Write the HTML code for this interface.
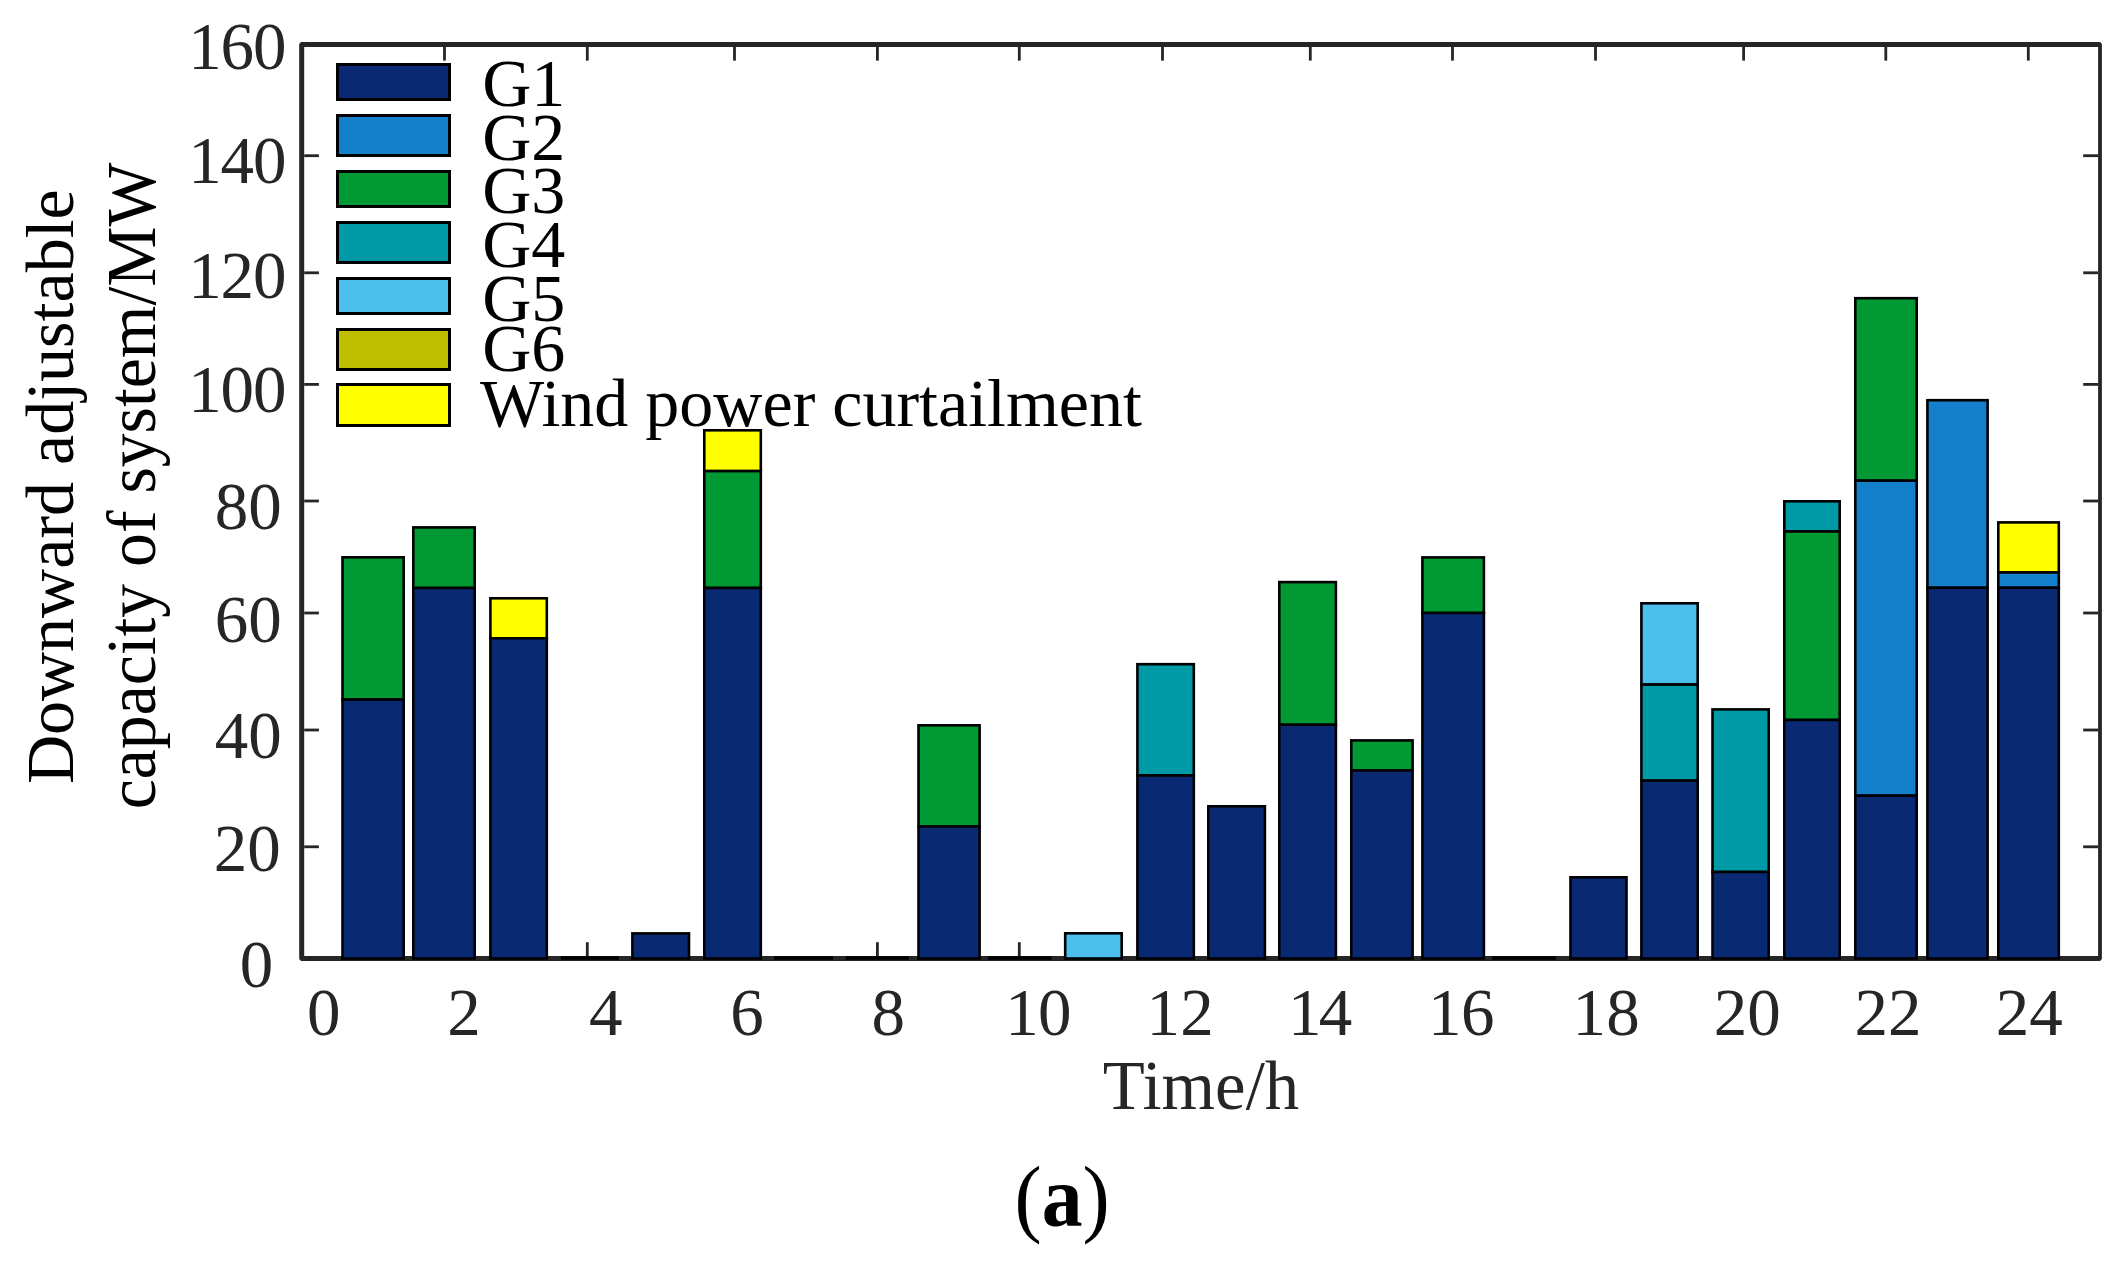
<!DOCTYPE html>
<html lang="en"><head><meta charset="utf-8"><title>Downward adjustable capacity of system</title>
<style>html,body{margin:0;padding:0;background:#fff}svg{display:block}text{font-family:"Liberation Serif",serif}</style></head><body>
<svg width="2120" height="1266" viewBox="0 0 2120 1266">
<rect width="2120" height="1266" fill="#fff"/>
<g fill="#262626">
<path fill-rule="evenodd" d="M301.0 42.1H2100.1L2101.9 43.9V959.1L2100.1 960.9H301.0L299.2 959.1V43.9Z M304.2 47.0V956.0H2098.1V47.0Z"/>
<rect x="443.1" y="47" width="2.8" height="13.6"/>
<rect x="443.1" y="942.2" width="2.8" height="13.8"/>
<rect x="585.9" y="47" width="2.8" height="13.6"/>
<rect x="585.9" y="942.2" width="2.8" height="13.8"/>
<rect x="733.1" y="47" width="2.8" height="13.6"/>
<rect x="733.1" y="942.2" width="2.8" height="13.8"/>
<rect x="876.0" y="47" width="2.8" height="13.6"/>
<rect x="876.0" y="942.2" width="2.8" height="13.8"/>
<rect x="1017.9" y="47" width="2.8" height="13.6"/>
<rect x="1017.9" y="942.2" width="2.8" height="13.8"/>
<rect x="1161.1" y="47" width="2.8" height="13.6"/>
<rect x="1161.1" y="942.2" width="2.8" height="13.8"/>
<rect x="1308.9" y="47" width="2.8" height="13.6"/>
<rect x="1308.9" y="942.2" width="2.8" height="13.8"/>
<rect x="1451.1" y="47" width="2.8" height="13.6"/>
<rect x="1451.1" y="942.2" width="2.8" height="13.8"/>
<rect x="1594.1" y="47" width="2.8" height="13.6"/>
<rect x="1594.1" y="942.2" width="2.8" height="13.8"/>
<rect x="1742.2" y="47" width="2.8" height="13.6"/>
<rect x="1742.2" y="942.2" width="2.8" height="13.8"/>
<rect x="1884.4" y="47" width="2.8" height="13.6"/>
<rect x="1884.4" y="942.2" width="2.8" height="13.8"/>
<rect x="2026.9" y="47" width="2.8" height="13.6"/>
<rect x="2026.9" y="942.2" width="2.8" height="13.8"/>
<rect x="304.2" y="154.3" width="14.7" height="2.8"/>
<rect x="2083.2" y="154.3" width="14.9" height="2.8"/>
<rect x="304.2" y="271.4" width="14.7" height="2.8"/>
<rect x="2083.2" y="271.4" width="14.9" height="2.8"/>
<rect x="304.2" y="383.0" width="14.7" height="2.8"/>
<rect x="2083.2" y="383.0" width="14.9" height="2.8"/>
<rect x="304.2" y="499.6" width="14.7" height="2.8"/>
<rect x="2083.2" y="499.6" width="14.9" height="2.8"/>
<rect x="304.2" y="611.6" width="14.7" height="2.8"/>
<rect x="2083.2" y="611.6" width="14.9" height="2.8"/>
<rect x="304.2" y="728.6" width="14.7" height="2.8"/>
<rect x="2083.2" y="728.6" width="14.9" height="2.8"/>
<rect x="304.2" y="845.4" width="14.7" height="2.8"/>
<rect x="2083.2" y="845.4" width="14.9" height="2.8"/>
</g>
<g fill="#000" font-size="68">
<text x="482.2" y="105.8">G1</text>
<text x="482.2" y="159.8">G2</text>
<text x="482.2" y="212.8">G3</text>
<text x="482.2" y="266.6">G4</text>
<text x="482.2" y="320.6">G5</text>
<text x="482.2" y="371.3">G6</text>
<text x="480.0" y="425.8">Wind power curtailment</text>
</g>
<g stroke="#000" stroke-width="2.6">
<rect x="342.5" y="557.3" width="61.2" height="142.3" fill="#009933"/>
<rect x="342.5" y="699.6" width="61.2" height="258.9" fill="#0A2973"/>
<rect x="413.3" y="527.4" width="61.4" height="60.6" fill="#009933"/>
<rect x="413.3" y="588.0" width="61.4" height="370.5" fill="#0A2973"/>
<rect x="490.4" y="598.3" width="56.4" height="40.0" fill="#FFFF00"/>
<rect x="490.4" y="638.3" width="56.4" height="320.2" fill="#0A2973"/>
<rect x="632.4" y="933.4" width="56.6" height="25.1" fill="#0A2973"/>
<rect x="704.3" y="430.3" width="56.5" height="40.8" fill="#FFFF00"/>
<rect x="704.3" y="471.1" width="56.5" height="116.9" fill="#009933"/>
<rect x="704.3" y="588.0" width="56.5" height="370.5" fill="#0A2973"/>
<rect x="918.5" y="725.3" width="61.1" height="101.2" fill="#009933"/>
<rect x="918.5" y="826.5" width="61.1" height="132.0" fill="#0A2973"/>
<rect x="1065.2" y="933.3" width="56.5" height="25.2" fill="#4DBFED"/>
<rect x="1137.4" y="664.2" width="56.4" height="111.3" fill="#0099A6"/>
<rect x="1137.4" y="775.5" width="56.4" height="183.0" fill="#0A2973"/>
<rect x="1208.3" y="806.3" width="56.6" height="152.2" fill="#0A2973"/>
<rect x="1279.3" y="582.1" width="56.6" height="142.7" fill="#009933"/>
<rect x="1279.3" y="724.8" width="56.6" height="233.7" fill="#0A2973"/>
<rect x="1351.3" y="740.4" width="61.3" height="30.1" fill="#009933"/>
<rect x="1351.3" y="770.5" width="61.3" height="188.0" fill="#0A2973"/>
<rect x="1422.4" y="557.4" width="61.5" height="55.6" fill="#009933"/>
<rect x="1422.4" y="613.0" width="61.5" height="345.5" fill="#0A2973"/>
<rect x="1570.5" y="877.3" width="56.0" height="81.2" fill="#0A2973"/>
<rect x="1641.4" y="603.3" width="56.3" height="81.3" fill="#4DBFED"/>
<rect x="1641.4" y="684.6" width="56.3" height="96.1" fill="#0099A6"/>
<rect x="1641.4" y="780.7" width="56.3" height="177.8" fill="#0A2973"/>
<rect x="1712.5" y="709.4" width="56.2" height="162.6" fill="#0099A6"/>
<rect x="1712.5" y="872.0" width="56.2" height="86.5" fill="#0A2973"/>
<rect x="1784.3" y="501.3" width="55.4" height="30.2" fill="#0099A6"/>
<rect x="1784.3" y="531.5" width="55.4" height="188.5" fill="#009933"/>
<rect x="1784.3" y="720.0" width="55.4" height="238.5" fill="#0A2973"/>
<rect x="1855.3" y="298.2" width="61.4" height="182.5" fill="#009933"/>
<rect x="1855.3" y="480.7" width="61.4" height="315.0" fill="#1480CC"/>
<rect x="1855.3" y="795.7" width="61.4" height="162.8" fill="#0A2973"/>
<rect x="1927.4" y="400.2" width="60.2" height="187.6" fill="#1480CC"/>
<rect x="1927.4" y="587.8" width="60.2" height="370.7" fill="#0A2973"/>
<rect x="1998.3" y="522.4" width="60.5" height="50.1" fill="#FFFF00"/>
<rect x="1998.3" y="572.5" width="60.5" height="15.3" fill="#1480CC"/>
<rect x="1998.3" y="587.8" width="60.5" height="370.7" fill="#0A2973"/>
</g>
<g fill="#000">
<rect x="560.8" y="956.2" width="58.1" height="3.6"/>
<rect x="774.0" y="956.2" width="59.0" height="3.6"/>
<rect x="845.7" y="956.2" width="63.2" height="3.6"/>
<rect x="988.0" y="956.2" width="63.6" height="3.6"/>
<rect x="1492.0" y="956.2" width="63.9" height="3.6"/>
</g>
<g stroke="#000" stroke-width="3">
<rect x="337.5" y="64.5" width="112" height="35" fill="#0A2973"/>
<rect x="337.5" y="115.5" width="112" height="40" fill="#1480CC"/>
<rect x="337.5" y="171.5" width="112" height="35" fill="#009933"/>
<rect x="337.5" y="222.5" width="112" height="40" fill="#0099A6"/>
<rect x="337.5" y="278.5" width="112" height="35" fill="#4DBFED"/>
<rect x="337.5" y="329.5" width="112" height="40" fill="#BFBF00"/>
<rect x="337.5" y="384.5" width="112" height="41" fill="#FFFF00"/>
</g>
<g fill="#262626" font-size="67">
<text x="323.8" y="1035.0" text-anchor="middle">0</text>
<text x="464.0" y="1035.0" text-anchor="middle">2</text>
<text x="605.7" y="1035.0" text-anchor="middle">4</text>
<text x="747.0" y="1035.0" text-anchor="middle">6</text>
<text x="888.2" y="1035.0" text-anchor="middle">8</text>
<text x="1005.3 1038.1" y="1035.0">10</text>
<text x="1146.6 1180.3" y="1035.0">12</text>
<text x="1288.0 1318.7" y="1035.0">14</text>
<text x="1427.9 1460.9" y="1035.0">16</text>
<text x="1572.4 1606.2" y="1035.0">18</text>
<text x="1747.2" y="1035.0" text-anchor="middle">20</text>
<text x="1887.9" y="1035.0" text-anchor="middle">22</text>
<text x="2029.2" y="1035.0" text-anchor="middle">24</text>
<text x="188.3 220.6 252.9" y="69.0">160</text>
<text x="188.3 220.6 252.9" y="183.0">140</text>
<text x="188.3 220.6 252.9" y="298.0">120</text>
<text x="188.3 220.6 252.9" y="411.7">100</text>
<text x="281.8" y="529.2" text-anchor="end">80</text>
<text x="281.8" y="642.4" text-anchor="end">60</text>
<text x="281.8" y="758.0" text-anchor="end">40</text>
<text x="280.7" y="871.0" text-anchor="end">20</text>
<text x="273.2" y="987.1" text-anchor="end">0</text>
</g>
<g fill="#262626">
<text x="1201" y="1109" font-size="68.8" text-anchor="middle">Time/h</text>
</g>
<g fill="#000" font-size="68" text-anchor="middle">
<text transform="translate(73.2,486.7) rotate(-90) scale(1,1.0)">Downward adjustable</text>
<text transform="translate(155.2,486.0) rotate(-90) scale(1,1.04)" font-size="67.7">capacity of system/MW</text>
</g>
<text transform="translate(1062.2,1226) scale(0.95,1)" font-size="86" text-anchor="middle" fill="#000">(<tspan font-weight="bold">a</tspan>)</text>
</svg></body></html>
